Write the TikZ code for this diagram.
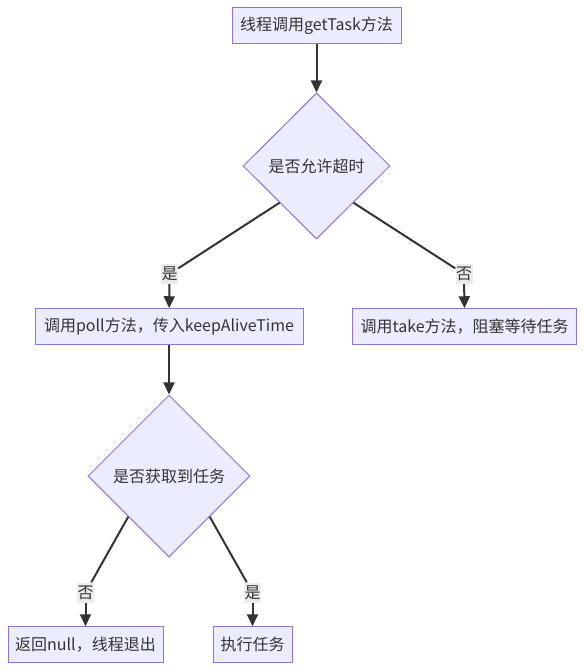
\documentclass[tikz,border=0pt]{standalone}
\usepackage{fontspec}
\setmainfont{Noto Sans CJK SC}
\usetikzlibrary{shapes.geometric,arrows.meta}
\definecolor{nodefill}{HTML}{ECECFF}
\definecolor{nodeline}{HTML}{9370DB}
\definecolor{ink}{HTML}{333333}
\definecolor{tagfill}{HTML}{E8E8E8}
\tikzset{
  box/.style={draw=nodeline, fill=nodefill, text=ink, line width=1pt,
    minimum height=35.5pt, inner sep=0pt, font=\fontsize{16}{18}\selectfont},
  decision/.style={diamond, draw=nodeline, fill=nodefill, text=ink, line width=1pt,
    inner sep=0pt, font=\fontsize{16}{18}\selectfont},
  tag/.style={fill=tagfill, fill opacity=0.85, text opacity=1, text=ink,
    inner sep=0pt, minimum width=17pt, minimum height=20pt,
    font=\fontsize{16}{18}\selectfont},
  link/.style={draw=ink, line width=2pt},
  arrow/.style={link, -{Triangle[length=12pt,width=11pt]}}
}
\begin{document}
\begin{tikzpicture}[x=1pt, y=-1pt]
    \useasboundingbox (0, 0) rectangle (584, 670);
    % Boxes
    \node[box, minimum width=169pt] (start) at (316.5, 25.5) {线程调用getTask方法};
    \node[box, minimum width=268pt] (poll) at (169, 326.5) {调用poll方法，传入keepAliveTime};
    \node[box, minimum width=224pt] (take) at (464.7, 326.5) {调用take方法，阻塞等待任务};
    \node[box, minimum width=155pt] (quit) at (85.5, 644.5) {返回null，线程退出};
    \node[box, minimum width=79pt] (work) at (252.5, 644.5) {执行任务};
    % Decisions
    \node[decision, minimum width=147pt, minimum height=146pt] (timeout) at (316.5, 166) {是否允许超时};
    \node[decision, minimum width=162pt, minimum height=162pt] (gottask) at (169, 476) {是否获取到任务};
    % Edge labels
    \node[tag] (yes1) at (169.5, 274) {是};
    \node[tag] (no1) at (464, 274) {否};
    \node[tag] (no2) at (85.5, 592.5) {否};
    \node[tag] (yes2) at (252.5, 592.5) {是};
    % Arrows
    \draw[arrow] (start) -- (timeout);
    \draw[link] (timeout.south west) -- (yes1);
    \draw[arrow] (yes1) -- (poll);
    \draw[link] (timeout.south east) -- (no1);
    \draw[arrow] (no1) -- (take);
    \draw[arrow] (poll) -- (gottask);
    \draw[link] (gottask.south west) -- (no2);
    \draw[arrow] (no2) -- (quit);
    \draw[link] (gottask.south east) -- (yes2);
    \draw[arrow] (yes2) -- (work);
\end{tikzpicture}
\end{document}
